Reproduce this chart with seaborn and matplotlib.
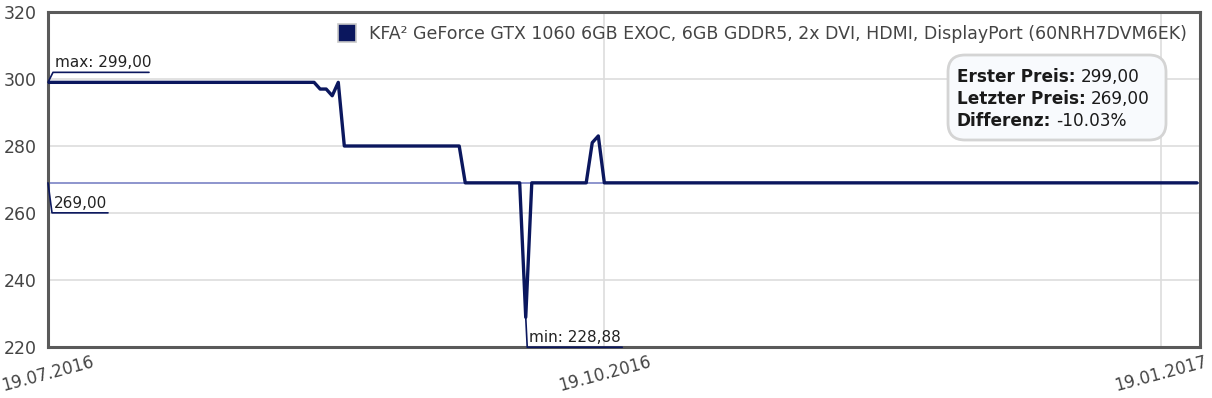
import matplotlib
matplotlib.use("Agg")
import matplotlib.pyplot as plt
import matplotlib.dates as mdates
from matplotlib.lines import Line2D
from matplotlib.patches import FancyBboxPatch
import pandas as pd
import seaborn as sns

# ---- data ----
dates = ["2016-07-19", "2016-09-01", "2016-09-02", "2016-09-03", "2016-09-04",
         "2016-09-05", "2016-09-06", "2016-09-25", "2016-09-26", "2016-10-05",
         "2016-10-06", "2016-10-07", "2016-10-16", "2016-10-17", "2016-10-18",
         "2016-10-19", "2017-01-25"]
prices = [299.00, 299.00, 297.00, 297.00, 295.00,
          299.00, 280.00, 280.00, 269.00, 269.00,
          228.88, 269.00, 269.00, 281.00, 283.00,
          269.00, 269.00]
series_name = "KFA² GeForce GTX 1060 6GB EXOC, 6GB GDDR5, 2x DVI, HDMI, DisplayPort (60NRH7DVM6EK)"
x_ticks = ["2016-07-19", "2016-10-19", "2017-01-19"]
y_ticks = [220, 240, 260, 280, 300, 320]

df = pd.DataFrame({"date": pd.to_datetime(dates), "price": prices})

NAVY = "#0b175e"
sns.set_style("white")
plt.rcParams["font.family"] = ["DejaVu Sans"]

W, H = 1212, 398
fig = plt.figure(figsize=(W / 100, H / 100), dpi=100)
ax = fig.add_axes([48 / W, 1 - 347 / H, (1200 - 48) / W, (347 - 12) / H])

first_price = df["price"].iloc[0]
last_price = df["price"].iloc[-1]
ax.axhline(last_price, color="#8d95cd", lw=1.4, zorder=1)

sns.lineplot(data=df, x="date", y="price", color=NAVY, linewidth=2.4, ax=ax,
             zorder=3, legend=False)

ax.set_xlim(pd.Timestamp("2016-07-19"), pd.Timestamp("2017-01-25 12:00"))
ax.set_ylim(220, 320)
ax.set_yticks(y_ticks)
ax.set_xticks(pd.to_datetime(x_ticks))
ax.xaxis.set_major_formatter(mdates.DateFormatter("%d.%m.%Y"))
ax.set_xlabel("")
ax.set_ylabel("")
ax.grid(True, color="#dddddd", linewidth=1.2, zorder=0)
ax.set_axisbelow(True)
ax.tick_params(axis="y", length=0, pad=8, labelsize=12.5, labelcolor="#444444")
ax.tick_params(axis="x", length=0, pad=4, labelsize=12, labelcolor="#444444")
for lab in ax.get_xticklabels():
    lab.set_rotation(15)
    lab.set_ha("center")
for s in ax.spines.values():
    s.set_color("#5a5a5a")
    s.set_linewidth(2.2)

# legend
handle = Line2D([], [], marker="s", linestyle="none", markersize=12.5,
                markerfacecolor=NAVY, markeredgecolor="#c8c8c8", markeredgewidth=1.2)
leg = ax.legend([handle], [series_name], loc="upper right", frameon=False,
                fontsize=12.5, handletextpad=0.3, borderaxespad=0.35,
                bbox_to_anchor=(1.0, 1.0))
for t in leg.get_texts():
    t.set_color("#444444")

# ---- callouts (pixel offsets from data points) ----
def fig_xy(xd, yd):
    p = ax.transData.transform((mdates.date2num(xd), yd))
    return fig.transFigure.inverted().transform(p)

def px(dx, dy):
    return dx / W, dy / H

def callout(xd, yd, dx1, dy1, length, text, color=NAVY):
    x0, y0 = fig_xy(xd, yd)
    ox, oy = px(dx1, dy1)
    lx, _ = px(length, 0)
    xs = [x0, x0 + ox, x0 + ox + lx]
    ys = [y0, y0 + oy, y0 + oy]
    fig.add_artist(Line2D(xs, ys, color=color, lw=1.2, transform=fig.transFigure,
                          zorder=5))
    tx, ty = px(2, 2)
    fig.text(x0 + ox + tx, y0 + oy + ty, text, fontsize=11, color="#222222",
             ha="left", va="bottom")

min_idx = df["price"].idxmin()
max_idx = df["price"].idxmax()
fmt = lambda v: f"{v:.2f}".replace(".", ",")
callout(df["date"].iloc[max_idx], df["price"].iloc[max_idx], 5, 10, 96,
        f"max: {fmt(df['price'].iloc[max_idx])}")
callout(df["date"].iloc[0], last_price, 4, -30, 56, fmt(last_price), color=NAVY)
callout(df["date"].iloc[min_idx], df["price"].iloc[min_idx], 1.5, -30, 95,
        f"min: {fmt(df['price'].iloc[min_idx])}")

# ---- info box ----
bx0, by0, bx1, by1 = 948, 55, 1166, 140
box = FancyBboxPatch((bx0 / W, 1 - by1 / H), (bx1 - bx0) / W, (by1 - by0) / H,
                     boxstyle="round,pad=0,rounding_size=0.014",
                     transform=fig.transFigure, facecolor="#f8fafd",
                     edgecolor="#d4d4d4", linewidth=2, zorder=6,
                     mutation_aspect=W / H)
fig.add_artist(box)
diff = (last_price - first_price) / first_price * 100
rows = [("Erster Preis:", fmt(first_price)),
        ("Letzter Preis:", fmt(last_price)),
        ("Differenz:", f"{diff:.2f}%")]
fig.canvas.draw()
renderer = fig.canvas.get_renderer()
for i, (lab, val) in enumerate(rows):
    yb = 1 - (81.5 + i * 22.3) / H
    t = fig.text(957 / W, yb, lab, fontsize=12.2, fontweight="bold", color="#1a1a1a",
                 ha="left", va="baseline", zorder=7)
    ext = t.get_window_extent(renderer=renderer)
    fig.text((ext.x1 + 5) / W, yb, val, fontsize=12.2, color="#1a1a1a",
             ha="left", va="baseline", zorder=7)

fig.savefig("out.png", dpi=100)
